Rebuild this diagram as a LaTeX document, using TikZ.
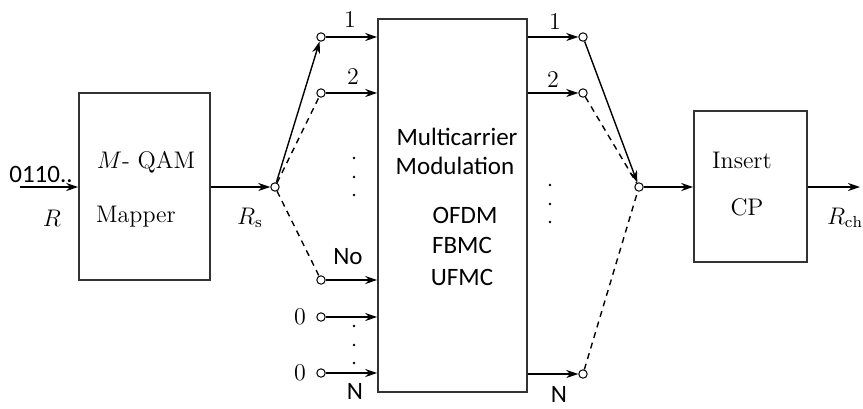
\documentclass[tikz,border=0pt]{standalone}
\usepackage{fontspec}
\newfontfamily\carl{Carlito}
\usetikzlibrary{arrows.meta}
\begin{document}
\begin{tikzpicture}[x=0.5pt,y=-0.5pt,
  blk/.style={draw=black!80,line width=0.8pt,inner sep=0},
  arr/.style={line width=0.7pt,-{Stealth[length=6pt,width=4pt]}},
  dsh/.style={line width=0.7pt,dash pattern=on 3pt off 2.5pt},
  pin/.style={circle,draw,line width=0.5pt,fill=white,inner sep=0,minimum size=4.2pt},
  ser/.style={font=\fontsize{12}{14}\selectfont,inner sep=0},
  sans/.style={font=\carl\fontsize{12.5}{14}\selectfont,inner sep=0},
  dot/.style={circle,fill=black,inner sep=0,minimum size=1.3pt}]
\useasboundingbox (0,0) rectangle (863,408);
% mapper
\node[blk,minimum width=65.5pt,minimum height=93.5pt] (map) at (144.5,186.5) {};
\node[ser] (mqam) at (146,162) {$M$- QAM};
\node[ser] (mapper) at (136,217) {Mapper};
\coordinate (in) at (20,187);
\draw[arr] (in) -- (in -| map.west);
\node[sans] (bits) at (41,174) {0110..};
\node[ser] (R) at (52,218) {$R$};
% switch
\node[pin] (sw) at (275,187) {};
\draw[arr] (map.east |- sw) -- (sw);
\node[ser] (Rs) at (250,218) {$R_{\mathrm{s}}$};
% left pins
\node[pin] (c1) at (321,37) {};
\node[pin] (c2) at (321,93) {};
\node[pin] (cno) at (321,280) {};
\node[pin] (cz1) at (321,317) {};
\node[pin] (cz2) at (321,373) {};
\draw[arr] (sw) -- (c1);
\draw[dsh] (sw) -- (c2);
\draw[dsh] (sw) -- (cno);
% multicarrier box
\node[blk,minimum width=74.5pt,minimum height=186.5pt] (mc) at (452.5,205.5) {};
\foreach \c in {c1,c2,cno,cz1,cz2} \draw[arr] (\c) -- (\c -| mc.west);
\node[sans] (t1) at (457,137) {Multicarrier};
\node[sans] (t2) at (455,166) {Modulation};
\node[sans] (t3) at (465,215) {OFDM};
\node[sans] (t4) at (462,245) {FBMC};
\node[sans] (t5) at (462,277) {UFMC};
\node[ser] (l1) at (350,20) {1};
\node[ser] (l2) at (353,77) {2};
\node[dot] (d1) at (354,158) {};
\node[dot] (d2) at (354,177) {};
\node[dot] (d3) at (354,195) {};
\node[sans] (lno) at (348,257) {No};
\node[ser] (z1) at (300,317) {0};
\node[ser] (z2) at (300,373) {0};
\node[dot] (d4) at (354,326) {};
\node[dot] (d5) at (354,345) {};
\node[dot] (d6) at (354,363) {};
\node[sans] (lN) at (355,391) {N};
% right pins
\node[pin] (r1) at (583,37) {};
\node[pin] (r2) at (583,93) {};
\node[pin] (rn) at (583,374) {};
\foreach \c in {r1,r2,rn} \draw[arr] (\c -| mc.east) -- (\c);
\node[ser] (m1) at (555,22) {1};
\node[ser] (m2) at (553,80) {2};
\node[dot] (e1) at (550,185) {};
\node[dot] (e2) at (550,204) {};
\node[dot] (e3) at (550,222) {};
\node[sans] (mN) at (559,394) {N};
% combiner
\node[pin] (cb) at (639,187) {};
\draw[arr] (r1) -- (cb);
\draw[dsh] (r2) -- (cb);
\draw[dsh] (rn) -- (cb);
% insert CP
\node[blk,minimum width=56.5pt,minimum height=75.5pt] (cp) at (750.5,186.5) {};
\node[ser] (ins) at (742,160) {Insert};
\node[ser] (cpt) at (747,207) {CP};
\draw[arr] (cb) -- (cb -| cp.west);
\coordinate (out) at (860,187);
\draw[arr] (cp.east |- out) -- (out);
\node[ser] (Rch) at (845,218) {$R_{\mathrm{ch}}$};
\end{tikzpicture}
\end{document}
